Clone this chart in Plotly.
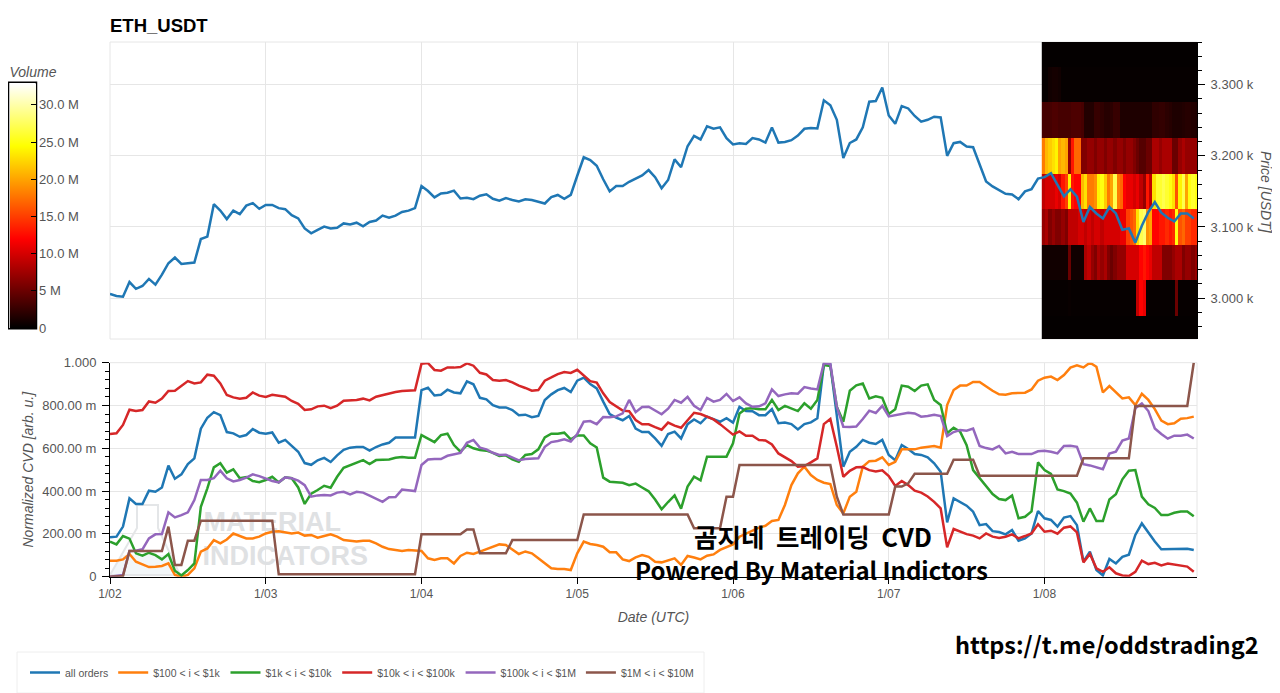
import pandas as pd
import plotly.graph_objects as go

# hourly samples, 1/02 00:00 to 1/08 23:00
hours = pd.date_range("2026-01-02", periods=168, freq="h")
# the volume heatmap only covers the last day, in half hour columns
heat_times = pd.date_range("2026-01-07 23:50", periods=48, freq="30min")
heat_prices = [2950, 3000, 3050, 3100, 3150, 3200, 3250, 3300, 3350]

price = [3006, 3003, 3002, 3022.6, 3013, 3017, 3027, 3019, 3033, 3049, 3057, 3048, 3049, 3050, 3083, 3086.5, 3132, 3123, 3111, 3123, 3118, 3130, 3133.5, 3125.5,
         3131, 3131, 3126.5, 3125, 3116.5, 3112, 3098, 3091, 3096, 3100.5, 3098, 3099, 3105, 3103.5, 3106, 3101, 3107, 3109, 3116, 3113, 3116, 3121, 3123, 3126.5,
         3157.5, 3150.5, 3141.5, 3147, 3148, 3151, 3140, 3141, 3139, 3144, 3146, 3139.6, 3137, 3140.5, 3138, 3136, 3139, 3138, 3135.5, 3133, 3142, 3145, 3139.6, 3145,
         3172, 3198, 3194, 3186, 3167, 3150, 3157.5, 3157.5, 3163.5, 3168, 3172.5, 3180, 3170, 3154.5, 3166, 3195, 3184, 3213.5, 3228, 3223, 3241.5, 3238, 3240, 3224.7,
         3216, 3217.7, 3216.7, 3225, 3223, 3218.6, 3240, 3218.6, 3219.5, 3222, 3228.5, 3238, 3239, 3238.5, 3278, 3271, 3250.6, 3197, 3218, 3223, 3240, 3276, 3277, 3296,
         3256.7, 3245, 3270, 3266.6, 3256, 3248, 3250.6, 3255, 3254, 3200, 3217.7, 3219.5, 3213, 3212, 3188.5, 3164, 3157, 3152, 3146.7, 3145.7, 3139, 3150, 3153, 3168,
         3170, 3175.6, 3159, 3143, 3153, 3142.5, 3107, 3128, 3119, 3112, 3128, 3119, 3096, 3098, 3078, 3101.6, 3121, 3135, 3120, 3113, 3107.7, 3119, 3119, 3112]

all_orders = [.184, .187, .234, .366, .340, .340, .402, .397, .417, .519, .458, .478, .526, .553, .692, .743, .769, .755, .676, .670, .654, .662, .690, .673,
              .668, .674, .626, .639, .611, .584, .531, .523, .544, .555, .536, .567, .593, .603, .606, .606, .589, .606, .618, .626, .650, .651, .650, .651,
              .872, .883, .847, .850, .874, .861, .857, .913, .899, .836, .829, .802, .791, .791, .779, .755, .757, .745, .751, .826, .852, .872, .882, .863,
              .916, .930, .900, .880, .818, .760, .743, .731, .751, .692, .676, .676, .646, .612, .667, .678, .646, .713, .735, .717, .748, .735, .724, .741,
              .720, .794, .774, .773, .755, .755, .783, .717, .720, .713, .688, .713, .721, .740, .991, .991, .748, .514, .584, .607, .639, .626, .620, .639,
              .569, .544, .615, .597, .573, .569, .558, .530, .491, .254, .366, .350, .332, .304, .241, .246, .213, .209, .198, .218, .168, .179, .202, .307,
              .273, .265, .234, .276, .283, .241, .070, .117, .031, .006, .083, .062, .093, .103, .195, .249, .206, .164, .128, .129, .132, .131, .131, .125]

band_100_1k = [.075, .075, .081, .106, .070, .056, .045, .047, .050, .062, .008, 0, .008, .039, .117, .132, .171, .156, .174, .202, .190, .179, .179, .187,
               .202, .210, .212, .206, .202, .206, .192, .195, .182, .190, .198, .187, .171, .168, .164, .168, .168, .156, .140, .129, .125, .120, .125, .121,
               .120, .086, .078, .086, .086, .062, .097, .112, .106, .117, .129, .140, .151, .148, .129, .106, .118, .109, .086, .062, .039, .036, .036, .031,
               .109, .164, .153, .148, .140, .114, .114, .081, .073, .090, .101, .093, .070, .067, .078, .086, .055, .097, .090, .081, .098, .104, .125, .137,
               .151, .187, .202, .217, .229, .238, .260, .265, .335, .428, .483, .514, .475, .452, .439, .433, .335, .296, .374, .397, .514, .540, .542, .558,
               .522, .537, .595, .595, .595, .603, .606, .611, .603, .802, .872, .893, .893, .910, .910, .888, .869, .852, .850, .857, .858, .860, .875, .916,
               .930, .935, .919, .942, .977, .988, .978, 1.0, .981, .861, .891, .864, .833, .838, .802, .855, .826, .783, .729, .713, .717, .738, .741, .748]

band_1k_10k = [.164, .151, .190, .178, .109, .098, .112, .101, .081, .106, .028, .006, .031, .062, .327, .413, .511, .530, .486, .502, .460, .466, .447, .442,
               .452, .467, .441, .464, .460, .417, .340, .388, .405, .425, .416, .467, .509, .522, .533, .545, .526, .545, .547, .548, .556, .559, .556, .556,
               .662, .646, .629, .662, .668, .615, .584, .615, .600, .592, .589, .579, .564, .567, .548, .537, .569, .573, .595, .651, .668, .668, .673, .642,
               .660, .660, .623, .604, .463, .444, .441, .439, .428, .435, .417, .399, .361, .315, .349, .380, .318, .421, .467, .450, .561, .561, .561, .561,
               .623, .763, .785, .787, .783, .782, .826, .779, .798, .785, .774, .810, .785, .826, .989, .984, .794, .724, .869, .894, .903, .833, .843, .836,
               .760, .783, .893, .888, .868, .893, .899, .826, .802, .670, .696, .678, .615, .498, .460, .421, .386, .363, .358, .379, .273, .280, .305, .534,
               .498, .480, .408, .400, .389, .346, .257, .319, .260, .260, .361, .385, .455, .495, .498, .374, .338, .321, .288, .288, .299, .305, .305, .283]

band_10k_100k = [.667, .670, .709, .780, .774, .779, .819, .813, .832, .868, .869, .891, .914, .903, .908, .944, .939, .903, .849, .838, .832, .836, .861, .846,
                 .840, .850, .844, .841, .821, .808, .779, .782, .796, .799, .787, .799, .822, .824, .826, .832, .824, .841, .849, .857, .863, .868, .869, .871,
                 .995, .998, .966, .963, .978, .977, .980, .997, .986, .953, .945, .919, .916, .919, .908, .893, .882, .869, .872, .916, .931, .947, .956, .952,
                 .967, .942, .914, .907, .857, .816, .794, .776, .773, .732, .712, .712, .699, .687, .720, .706, .696, .732, .766, .760, .748, .735, .713, .688,
                 .664, .679, .659, .659, .639, .637, .618, .576, .558, .540, .514, .517, .534, .553, .713, .737, .607, .467, .495, .511, .512, .498, .492, .497,
                 .470, .424, .447, .428, .402, .393, .375, .350, .319, .137, .223, .210, .199, .192, .179, .202, .187, .181, .187, .198, .179, .190, .202, .245,
                 .210, .215, .201, .229, .235, .207, .067, .106, .039, .023, .044, .016, .006, .003, .023, .075, .059, .065, .053, .062, .058, .051, .047, .023]

band_100k_1m = [0, .003, .008, .120, .121, .128, .179, .198, .199, .301, .277, .288, .301, .358, .452, .452, .460, .495, .460, .445, .452, .463, .478, .470,
                .460, .447, .441, .464, .460, .449, .428, .374, .380, .382, .380, .393, .397, .385, .397, .393, .379, .363, .350, .371, .372, .407, .403, .400,
                .522, .548, .550, .550, .565, .570, .578, .626, .639, .603, .595, .579, .569, .570, .558, .544, .550, .551, .553, .607, .629, .634, .642, .632,
                .667, .724, .727, .713, .746, .745, .749, .763, .826, .769, .793, .794, .776, .759, .785, .826, .813, .840, .799, .779, .835, .818, .826, .854,
                .821, .838, .810, .794, .796, .810, .875, .844, .852, .857, .855, .886, .879, .875, .997, .994, .794, .701, .699, .702, .737, .776, .765, .798,
                .749, .755, .763, .766, .763, .748, .751, .757, .751, .657, .676, .685, .682, .692, .611, .601, .595, .611, .576, .584, .573, .572, .573, .586,
                .589, .584, .576, .611, .612, .607, .526, .520, .512, .502, .575, .584, .636, .646, .787, .810, .774, .693, .667, .645, .659, .659, .664, .646]

band_1m_10m = [0, 0, .003, .120, .120, .120, .120, .120, .120, .234, .055, .055, .168, .168, .262, .262, .262, .262, .262, .262, .262, .262, .262, .262,
               .262, .262, .012, .012, .012, .012, .012, .012, .012, .012, .012, .012, .012, .012, .012, .012, .012, .012, .012, .012, .012, .012, .012, .012,
               .198, .198, .198, .198, .198, .198, .198, .221, .221, .109, .109, .109, .109, .109, .171, .171, .171, .171, .171, .171, .171, .171, .171, .171,
               .171, .291, .291, .291, .291, .291, .291, .291, .291, .291, .291, .291, .291, .291, .291, .291, .291, .291, .226, .226, .226, .226, .226, .374,
               .374, .522, .522, .522, .522, .522, .522, .522, .522, .522, .522, .522, .522, .522, .522, .522, .374, .291, .291, .291, .291, .291, .291, .291,
               .291, .421, .421, .436, .481, .481, .481, .481, .481, .481, .547, .547, .547, .547, .472, .472, .472, .472, .472, .472, .472, .472, .472, .472,
               .472, .472, .472, .472, .472, .472, .553, .553, .553, .553, .553, .553, .553, .553, .798, .798, .798, .798, .798, .798, .798, .798, .798, 1.0]

# volume per price bin in millions, one row for each entry of heat_prices
vol_2950 = [.2] * 48
vol_3000 = [.3, .3, .3, .3, .3, .3, .3, .3, .4, .3, .3, .3, .3, .3, .3, .3, .3, .3, .3, .3, .3, .3, .3, .3,
            .3, .3, .3, .3, .3, 9, 12, 11, .4, .3, .3, .3, .3, .3, .3, .3, .3, 5, .3, .3, .3, .3, .3, .3]
vol_3050 = [.8, .8, .8, .8, .8, .8, .8, .8, 5, .8, .8, .8, .8, 8, 9, 7, 6, 8, 7, 8, 6, 5, 6, 7,
            7, 7, 10, 10, 10, 10, 12, 13, 12, 11, 9, 9, 9, 6, 6, 6, 7, 8, 8, 6, 7, 7, 6, 7]
vol_3100 = [7, 8, 6, 7, 6, 6, 7, 6, 9, 9, 9, 10, 10, 9, 10, 9, 10, 10, 9, 10, 10, 10, 10, 10,
            11, 11, 15, 16, 17, 23, 27, 28, 19, 20, 12, 12, 13, 13, 14, 13, 14, 25, 16, 17, 15, 15, 14, 14]
vol_3150 = [9, 10, 10, 10, 11, 10, 13, 15, 24, 13, 12, 12, 21, 23, 18, 18, 19, 24, 25, 22, 18, 20, 27, 18,
            17, 12, 11, 11, 10, 11, 9, 7, 13, 9, 23, 26, 26, 27, 26, 25, 23, 16, 24, 27, 20, 25, 26, 25]
vol_3200 = [18, 21, 22, 23, 24, 20, 21, 20, 7, 13, 17, 17, 6, 6, 7, 7, 6, 7, 7, 6, 7, 7, 6, 7,
            7, 6, 7, 7, 6, 5, 4, 4, 5, 5, 8, 8, 7, 8, 8, 8, 5, 5, 7, 8, 7, 7, 7, 7]
vol_3250 = [3.3, 3.3, 3.3, 3.6, 3.6, 3.3, 3.3, 3.3, 3.3, 3.6, 3.6, 3.6, 3.3, 1.6, 1.6, 1.6, 2.6, 2.6, 2.2, 1.8, 1.8, 2, 2.6, 2.6,
            1.4, 1.4, 1.4, 1.4, 1.4, 1.4, 1.4, 1.4, 1.4, 1.4, 2.2, 2.2, 2.4, 2.4, 2, 1.8, 1.4, 1.4, 1.4, 1.6, 1.8, 1.8, 1.6, 1.4]
vol_3300 = [.3, .3, .8, 1, 1, .8, .3, .3, .3, .3, .3, .3, .3, .3, .3, .3, .3, .3, .3, .3, .3, .3, .3, .3,
            .3, .3, .3, .3, .3, .3, .3, .3, .3, .3, .3, .3, .3, .3, .3, .3, .3, .3, .3, .3, .3, .3, .3, .3]
vol_3350 = [.2] * 48

price_ticks = [3000, 3100, 3200, 3300]
price_labels = ["3.000 k", "3.100 k", "3.200 k", "3.300 k"]
cvd_ticks = [0, .2, .4, .6, .8, 1]
cvd_labels = ["0", "200.00 m", "400.00 m", "600.00 m", "800.00 m", "1.000"]
vol_ticks = [0, 5, 10, 15, 20, 25, 30]
vol_labels = ["0", "5 M", "10.0 M", "15.0 M", "20.0 M", "25.0 M", "30.0 M"]

series = [("all orders", all_orders, "#1f77b4"),
          ("$100 < i < $1k", band_100_1k, "#ff7f0e"),
          ("$1k < i < $10k", band_1k_10k, "#2ca02c"),
          ("$10k < i < $100k", band_10k_100k, "#d62728"),
          ("$100k < i < $1M", band_100k_1m, "#9467bd"),
          ("$1M < i < $10M", band_1m_10m, "#8c564b")]

# the page body keeps its 8px margin, so the figure starts at (8, 8)
PAGE = 8
W, H = 1280 - PAGE, 693 - PAGE
GRID = "#e6e6e6"
TXT = "#555555"
FONT = "Liberation Sans, Arial, sans-serif"
KR = "Noto Sans CJK KR, Noto Sans, sans-serif"


def px(x):
    return (x - PAGE) / W


def py(y):
    return 1 - (y - PAGE) / H


def note(text, x, y, size, **kw):
    return dict(text=text, xref="paper", yref="paper", x=px(x), y=py(y), xanchor="center", yanchor="middle",
                showarrow=False, font=dict(size=size, color=kw.pop("color", "black"), family=kw.pop("family", KR)), **kw)


fig = go.Figure()

fig.add_trace(go.Heatmap(
    x=heat_times, y=heat_prices,
    z=[vol_2950, vol_3000, vol_3050, vol_3100, vol_3150, vol_3200, vol_3250, vol_3300, vol_3350],
    zmin=0, zmax=32.8, xaxis="x", yaxis="y",
    colorscale=[[0, "#000000"], [.365, "#ff0000"], [.746, "#ffff00"], [1, "#ffffff"]],
    colorbar=dict(x=px(9.5), xanchor="left", y=py(63), yanchor="top", lenmode="pixels", len=265,
                  thicknessmode="pixels", thickness=26, xpad=0, ypad=0,
                  outlinewidth=0,
                  tickmode="array", tickvals=vol_ticks, ticktext=vol_labels,
                  ticks="inside", ticklen=5, tickcolor="black",
                  tickfont=dict(size=13, color=TXT),
                  title=dict(text="<i>Volume</i>", side="top", font=dict(size=14, color=TXT))),
))
fig.add_trace(go.Scatter(x=hours, y=price, mode="lines", line=dict(color="#1f77b4", width=2.5),
                         showlegend=False, xaxis="x", yaxis="y"))

# watermark sits under the CVD lines, so it goes in as a text trace
fig.add_trace(go.Scatter(
    x=[hours[25], hours[27]], y=[.246, .085], mode="text", text=["MATERIAL", "INDICATORS"],
    textfont=dict(size=27, color="#dfe1e3", family=FONT, weight="bold"),
    showlegend=False, hoverinfo="skip", xaxis="x2", yaxis="y2"))

for name, vals, color in series:
    fig.add_trace(go.Scatter(x=hours, y=vals, name=name, mode="lines",
                             line=dict(color=color, width=2.5), xaxis="x2", yaxis="y2"))

x_range = ["2026-01-02 00:00", "2026-01-08 23:30"]
x_common = dict(type="date", range=x_range, dtick=86400000, tickformat="%-m/%d",
                showgrid=True, gridcolor=GRID, gridwidth=1, zeroline=False,
                domain=[px(110), px(1197)])

fig.update_layout(
    width=W, height=H, margin=dict(l=0, r=0, t=0, b=0, autoexpand=False),
    paper_bgcolor="white", plot_bgcolor="white",
    font=dict(family=FONT, size=13, color=TXT),
    title=dict(text="<b>ETH_USDT</b>", x=px(110), xanchor="left", y=py(26), yanchor="middle",
               font=dict(size=18.5, color="black")),
    xaxis=dict(**x_common, anchor="y", showticklabels=False, ticks=""),
    yaxis=dict(domain=[py(339), py(42)], range=[2942.5, 3360], side="right", anchor="x",
               tickmode="array", tickvals=price_ticks, ticktext=price_labels, ticklabelstandoff=3,
               ticks="outside", ticklen=7, tickcolor="black", showline=True, linecolor="black",
               showgrid=True, gridcolor=GRID, zeroline=False,
               minor=dict(tickmode="linear", tick0=3000, dtick=20, ticks="outside", ticklen=4,
                          tickcolor="black", showgrid=False)),
    xaxis2=dict(**x_common, anchor="y2", ticks="outside", ticklen=6, tickcolor="black",
                showline=True, linecolor="black", tickfont=dict(size=12),
                title=dict(text="<i>Date (UTC)</i>", standoff=12, font=dict(size=14, color=TXT))),
    yaxis2=dict(domain=[py(576.7), py(362.7)], range=[0, 1], anchor="x2",
                tickmode="array", tickvals=cvd_ticks, ticktext=cvd_labels, ticklabelstandoff=3,
                ticks="outside", ticklen=7, tickcolor="black", showline=True, linecolor="black",
                showgrid=True, gridcolor=GRID, zeroline=False,
                minor=dict(tickmode="linear", tick0=0, dtick=.04, ticks="outside", ticklen=4,
                           tickcolor="black", showgrid=False),
                title=dict(text="<i>Normalized CVD [arb. u.]</i>", standoff=5, font=dict(size=14, color=TXT))),
    legend=dict(orientation="h", x=px(25), xanchor="left", y=py(658), yanchor="top",
                bgcolor="rgba(0,0,0,0)", borderwidth=0,
                font=dict(size=10.5, color=TXT), itemwidth=30, tracegroupgap=0),
    shapes=[
        dict(type="rect", xref="x domain", yref="y domain", x0=0, x1=1, y0=0, y1=1,
             line=dict(color=GRID, width=1), layer="below"),
        dict(type="line", xref="x2 domain", yref="y2 domain", x0=1, x1=1, y0=0, y1=1,
             line=dict(color=GRID, width=1), layer="below"),
        dict(type="line", xref="x2 domain", yref="y2 domain", x0=0, x1=1, y0=1, y1=1,
             line=dict(color=GRID, width=1), layer="below"),
        # legend frame, taller than plotly's own box
        dict(type="rect", xref="paper", yref="paper", x0=px(17), x1=px(704), y0=py(693), y1=py(652),
             line=dict(color="#eeeeee", width=1), layer="below"),
        # colour bar frame, just outside the bar because the bar draws on top of shapes
        dict(type="rect", xref="paper", yref="paper", x0=px(8.5), x1=px(36.5), y0=py(328.7), y1=py(82.3),
             line=dict(color="black", width=1.5), layer="above"),
        # flask of the watermark logo, liquid first
        dict(type="path", xref="paper", yref="paper", layer="below",
             path=f"M {px(122)} {py(555)} L {px(170)} {py(555)} L {px(180)} {py(575)} L {px(110)} {py(575)} Z",
             line=dict(width=0), fillcolor="#f2f6f8"),
        dict(type="path", xref="paper", yref="paper", layer="below",
             path=f"M {px(137)} {py(505)} L {px(158)} {py(505)} L {px(158)} {py(528)} L {px(180)} {py(575)} "
                  f"L {px(110)} {py(575)} L {px(137)} {py(528)} Z",
             line=dict(color="#e4e6e8", width=2)),
    ],
    annotations=[
        note("<i>Price [USDT]</i>", 1266, 192, 14, color=TXT, family=FONT, textangle=90),
        note("<b>곰지네\u00a0\u00a0트레이딩\u00a0\u00a0CVD</b>", 813, 535, 25.5),
        note("<b>Powered By Material Indictors</b>", 811, 569, 24),
        note("<b>https://t.me/oddstrading2</b>", 1107, 644, 23.5),
    ],
)

fig.write_html("out.html")
